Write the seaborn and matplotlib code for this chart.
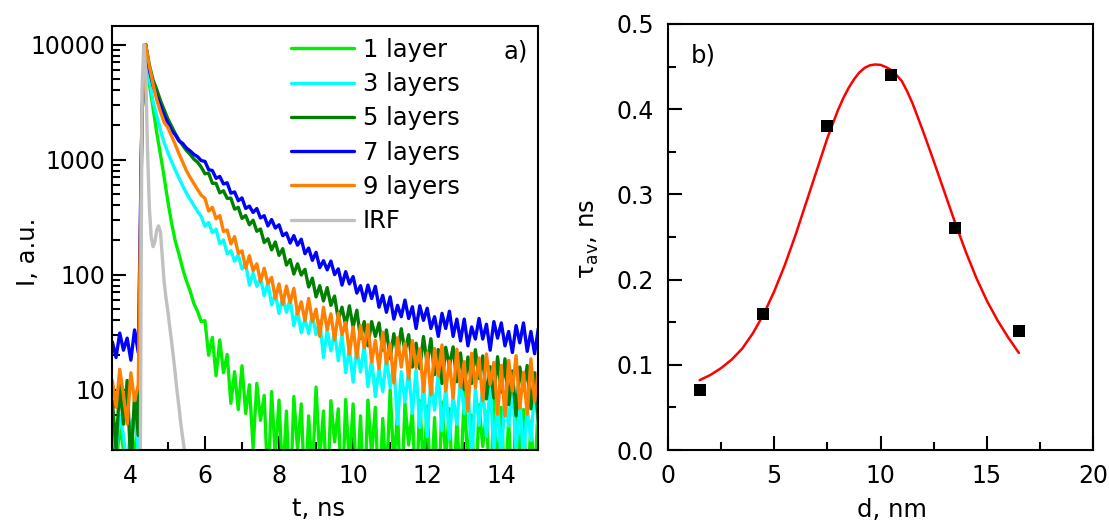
import matplotlib
matplotlib.use("Agg")
import matplotlib.pyplot as plt
import pandas as pd
import seaborn as sns
from matplotlib.ticker import (FixedLocator, MultipleLocator, LogLocator,
                               NullFormatter, FuncFormatter)

# ---------------- panel a) : PL decay curves ----------------
t_ns = [3.5, 3.6, 3.7, 3.8, 3.9, 4.0, 4.1, 4.2, 4.3, 4.4,
        4.5, 4.6, 4.7, 4.8, 4.9, 5.0, 5.1, 5.2, 5.3, 5.4,
        5.5, 5.6, 5.7, 5.8, 5.9, 6.0, 6.1, 6.2, 6.3, 6.4,
        6.5, 6.6, 6.7, 6.8, 6.9, 7.0, 7.1, 7.2, 7.3, 7.4,
        7.5, 7.6, 7.7, 7.8, 7.9, 8.0, 8.1, 8.2, 8.3, 8.4,
        8.5, 8.6, 8.7, 8.8, 8.9, 9.0, 9.1, 9.2, 9.3, 9.4,
        9.5, 9.6, 9.7, 9.8, 9.9, 10.0, 10.1, 10.2, 10.3, 10.4,
        10.5, 10.6, 10.7, 10.8, 10.9, 11.0, 11.1, 11.2, 11.3, 11.4,
        11.5, 11.6, 11.7, 11.8, 11.9, 12.0, 12.1, 12.2, 12.3, 12.4,
        12.5, 12.6, 12.7, 12.8, 12.9, 13.0, 13.1, 13.2, 13.3, 13.4,
        13.5, 13.6, 13.7, 13.8, 13.9, 14.0, 14.1, 14.2, 14.3, 14.4,
        14.5, 14.6, 14.7, 14.8, 14.9, 15.0]

I_1layer = [4, 2, 5, 3, 2, 4, 3, 5, 2500, 10000,
            4500, 2800, 1700, 1100, 700, 430, 280, 195, 150, 112,
            88, 72, 56, 48, 39,
            39.7, 19.9, 28.4, 13.2, 27, 14, 20.2, 7.6, 14.3, 6.7,
            16.1, 6.2, 11, 3.1, 11.3, 5.4, 8.9, 1.4, 9.6, 2.6,
            8.1, 1.6, 6.5, 1, 8.7, 3, 7.5, 1.1, 5.9, 1.8,
            10.5, 2.5, 6.5, 1, 8, 3.5, 6.8, 1, 8.2, 2.1,
            7.5, 1.3, 5.9, 1, 8.1, 2.7, 7, 1, 5.6, 1.6,
            10, 2.2, 6.2, 1, 7.6, 3.3, 6.6, 1, 8, 1.9,
            7.2, 1.2, 5.7, 1, 7.8, 2.5, 6.8, 1, 5.4, 1.5,
            9.5, 2.1, 6, 1, 7.4, 3.2, 6.4, 1, 7.9, 1.8,
            7, 1.2, 5.6, 1, 7.7, 2.4, 6.7, 1, 5.3, 1.5, 8]

I_3layers = [5, 3, 6, 4, 2, 5, 6, 3, 2500, 10000,
             5000, 3200, 2400, 1800, 1400, 1150, 960, 810, 690, 590,
             510, 450, 400, 355, 320,
             263, 284, 231, 248, 186, 200, 152, 161, 131, 149,
             112, 124, 81, 103, 79, 93, 65.6, 85, 54.5, 68.4,
             46, 63.8, 47, 61, 35.9, 48.6, 31.2, 41, 30.8, 45,
             30, 39.5, 19, 32.8, 21.7, 31.8, 17.8, 30, 14, 23,
             11.6, 23, 14.2, 24.1, 10.6, 18.3, 8.7, 15.3, 9.6, 18.8,
             10.4, 16.9, 5, 14.3, 7.8, 14.5, 6.2, 14.9, 4.7, 11.3,
             3.9, 12.3, 6.6, 13.8, 4.4, 10.5, 3.7, 8.9, 5, 12.4,
             6.2, 11.7, 2.3, 10.1, 4.9, 10.7, 3.9, 11.4, 2.8, 8.5,
             2.2, 9.5, 4.8, 11.1, 2.9, 8.5, 2.4, 6.9, 3.6, 10.2, 4.7]

I_5layers = [8, 3, 11, 5, 12, 2, 9, 4, 2500, 10000,
             6600, 4900, 4050, 3250, 2700, 2250, 1950, 1680, 1480, 1330,
             1200, 1110, 1010, 950, 860,
             753, 763, 623, 621, 514, 535, 460, 462, 371, 384,
             308, 326, 271, 297, 238, 249, 190, 205, 164, 192,
             147, 168, 121, 135, 101, 124, 99, 111, 78, 93,
             64, 80, 59, 77, 54, 65, 40.5, 52, 36, 53.5,
             35, 49, 28, 39, 24, 39, 29, 38, 22, 33,
             18.7, 30.6, 20.3, 33.8, 21.3, 30, 15.7, 25.3, 15.2, 28.9,
             16.6, 27.7, 13.5, 22.3, 11.3, 23.3, 16, 23.5, 11.7, 20.8,
             10, 19.2, 11.3, 22.2, 12.5, 19.6, 8.3, 15.8, 8.4, 19.3,
             9.5, 18.5, 7.4, 14.5, 5.9, 15.7, 9.9, 16.2, 6.8, 14, 5.3]

I_7layers = [26, 19, 31, 22, 28, 18, 33, 21, 2500, 10000,
             6000, 4400, 3550, 2950, 2420, 2080, 1790, 1640, 1450, 1380,
             1260, 1190, 1110, 1060, 980,
             964, 817, 803, 687, 713, 614, 628, 510, 523, 439,
             464, 376, 394, 347, 375, 311, 325, 265, 301, 254,
             271, 218, 230, 188, 218, 180, 203, 152, 170, 133,
             156, 115, 132, 110, 131, 100, 112, 81, 106, 83,
             96, 69, 80, 59, 81, 62, 79, 52, 66, 47,
             64, 41, 54, 43, 60, 41.5, 52.5, 34, 53.5, 40,
             51, 34, 43, 29, 46, 34, 48, 29, 41, 26.5,
             41, 24, 35, 27.5, 41.5, 27.5, 37, 22, 39, 28,
             38, 24, 32, 21, 36, 25.5, 38, 21.5, 32, 20.5, 34]

I_9layers = [12, 7, 15, 9, 5, 14, 8, 11, 2500, 10000,
             6500, 4500, 3300, 2600, 2100, 1900, 1600, 1350, 1120, 950,
             800, 700, 620, 550, 490,
             460, 357, 384, 306, 326, 237, 244, 185, 214, 153,
             161, 114, 146, 108, 124, 87, 113.5, 83.6, 94.4, 62,
             83, 55, 79.5, 57, 76, 45.5, 58, 39.7, 62, 39,
             50, 29, 52, 33, 45.6, 27, 46, 30, 38.4, 20.4,
             35, 18.8, 36, 23, 36.7, 17.4, 26.8, 15.2, 31.5, 16.7,
             25, 11.4, 28.2, 15.7, 25.4, 12.4, 26.7, 15.6, 22.6, 9.6,
             20.9, 9, 22.7, 13.2, 24.4, 9.7, 17.7, 8.5, 22.4, 10.4,
             17.5, 6.5, 20.7, 10.4, 18.8, 8, 20.4, 11.1, 17.2, 6.1,
             16.2, 5.9, 18, 9.7, 19.7, 6.9, 14.1, 6.1, 18.5, 7.9, 14.3]

t_irf = [4.20, 4.25, 4.30, 4.35, 4.40, 4.45, 4.50, 4.55, 4.60, 4.65,
         4.70, 4.75, 4.80, 4.85, 4.90, 4.95, 5.00, 5.05, 5.10, 5.15,
         5.20, 5.25, 5.30, 5.35, 5.40, 5.45, 5.50]
I_irf = [1, 1, 4000, 10000, 6000, 1200, 380, 210, 175, 195,
         245, 265, 235, 140, 85, 62, 48, 35, 26, 19,
         13.5, 9.5, 7, 5, 3.8, 2.9, 2]

series_names = ["1 layer", "3 layers", "5 layers", "7 layers", "9 layers", "IRF"]
series_colors = ["#00f000", "#00ffff", "#008000", "#0000ff", "#ff8000", "#c0c0c0"]

# ---------------- panel b) : average lifetime ----------------
d_nm = [1.5, 4.5, 7.5, 10.5, 13.5, 16.5]
tau_ns = [0.07, 0.16, 0.38, 0.44, 0.26, 0.14]

d_fit = [1.5, 2.0, 2.5, 3.0, 3.5, 4.0, 4.5, 5.0, 5.5, 6.0, 6.5,
         7.0, 7.5, 8.0, 8.25, 8.5, 8.75, 9.0, 9.25, 9.5, 9.75, 10.0,
         10.25, 10.5, 10.75, 11.0, 11.25, 11.5,
         12.0, 12.5, 13.0, 13.5, 14.0, 14.5, 15.0, 15.5, 16.0, 16.5]
tau_fit = [0.082, 0.088, 0.096, 0.106, 0.119, 0.137, 0.159, 0.186, 0.217, 0.252, 0.290,
           0.328, 0.366, 0.399, 0.413, 0.425, 0.435, 0.443, 0.4485, 0.4515, 0.4525, 0.452,
           0.4495, 0.446, 0.440, 0.433, 0.421, 0.407,
           0.374, 0.339, 0.303, 0.267, 0.233, 0.202, 0.175, 0.152, 0.132, 0.114]

# ---------------- style ----------------
sns.set_style("ticks")
plt.rcParams["font.family"] = ["DejaVu Sans"]
plt.rcParams["mathtext.fontset"] = "dejavusans"
plt.rcParams["axes.linewidth"] = 1.5
plt.rcParams["axes.edgecolor"] = "black"
plt.rcParams["axes.labelcolor"] = "black"
plt.rcParams["text.color"] = "black"
plt.rcParams["xtick.color"] = "black"
plt.rcParams["ytick.color"] = "black"
plt.rcParams["xtick.labelcolor"] = "black"
plt.rcParams["ytick.labelcolor"] = "black"

FS_TICK = 17
FS_TEXT = 17.5

fig = plt.figure(figsize=(11.09, 5.24), dpi=100)
axL = fig.add_axes([0.1013, 0.1418, 0.3841, 0.8092])
axR = fig.add_axes([0.6021, 0.1412, 0.3838, 0.8130])

# ---- left panel
rows = []
for name, vals in zip(series_names[:5], [I_1layer, I_3layers, I_5layers, I_7layers, I_9layers]):
    for t, v in zip(t_ns, vals):
        rows.append((name, t, v))
for t, v in zip(t_irf, I_irf):
    rows.append(("IRF", t, v))
df = pd.DataFrame(rows, columns=["sample", "t", "I"])

axL.set_yscale("log")
sns.lineplot(data=df, x="t", y="I", hue="sample", hue_order=series_names,
             palette=series_colors, estimator=None, sort=False, lw=2.4,
             ax=axL, legend=True)
axL.set_xlim(3.5, 15)
axL.set_ylim(3, 14600)

handles, labels = axL.get_legend_handles_labels()
axL.get_legend().remove()
leg = axL.legend(handles, labels, loc="upper left", bbox_to_anchor=(0.4195, 0.971),
                 frameon=False, borderpad=0, borderaxespad=0, handlelength=2.6,
                 handletextpad=0.35, labelspacing=0.42, fontsize=FS_TEXT)
for h in leg.get_lines():
    h.set_linewidth(2.4)

axL.xaxis.set_major_locator(FixedLocator([4, 6, 8, 10, 12, 14]))
axL.xaxis.set_minor_locator(MultipleLocator(1))
axL.yaxis.set_major_locator(FixedLocator([10, 100, 1000, 10000]))
axL.yaxis.set_minor_locator(LogLocator(base=10, subs=[2, 3, 4, 5, 6, 7, 8, 9]))
axL.yaxis.set_minor_formatter(NullFormatter())
axL.yaxis.set_major_formatter(FuncFormatter(lambda v, p: f"{v:.0f}"))
axL.xaxis.set_major_formatter(FuncFormatter(lambda v, p: f"{v:.0f}"))
axL.tick_params(axis="both", which="major", direction="in", length=10, width=1.5,
                labelsize=FS_TICK, top=False, right=False)
axL.tick_params(axis="both", which="minor", direction="in", length=5.5, width=1.5,
                top=False, right=False)
axL.tick_params(axis="x", which="major", pad=10)
axL.tick_params(axis="y", which="major", pad=5)
axL.set_xlabel("t, ns", fontsize=FS_TEXT)
axL.set_ylabel("I, a.u.", fontsize=FS_TEXT)
axL.xaxis.set_label_coords(0.483, -0.112)
axL.yaxis.set_label_coords(-0.170, 0.467)
axL.text(0.9186, 0.9387, "a)", transform=axL.transAxes, fontsize=FS_TEXT,
         ha="left", va="center")

# ---- right panel
sns.lineplot(x=d_fit, y=tau_fit, color="#ff0000", lw=1.8, sort=False,
             estimator=None, ax=axR)
sns.scatterplot(x=d_nm, y=tau_ns, marker="s", s=75, color="black",
                linewidth=0, ax=axR, zorder=3)
axR.set_xlim(0, 20)
axR.set_ylim(0, 0.5)
axR.xaxis.set_major_locator(MultipleLocator(5))
axR.xaxis.set_minor_locator(MultipleLocator(2.5))
axR.yaxis.set_major_locator(MultipleLocator(0.1))
axR.yaxis.set_minor_locator(MultipleLocator(0.05))
axR.xaxis.set_major_formatter(FuncFormatter(lambda v, p: f"{v:.0f}"))
axR.yaxis.set_major_formatter(FuncFormatter(lambda v, p: f"{v:.1f}"))
axR.tick_params(axis="both", which="major", direction="in", length=10, width=1.5,
                labelsize=FS_TICK, top=False, right=False)
axR.tick_params(axis="both", which="minor", direction="in", length=5.5, width=1.5,
                top=False, right=False)
axR.tick_params(axis="x", which="major", pad=10)
axR.tick_params(axis="y", which="major", pad=10)
axR.set_xlabel("d, nm", fontsize=FS_TEXT)
axR.set_ylabel(r"$\mathregular{\tau_{av}}$, ns", fontsize=FS_TEXT)
axR.xaxis.set_label_coords(0.526, -0.112)
axR.yaxis.set_label_coords(-0.157, 0.495)
axR.text(0.0547, 0.9268, "b)", transform=axR.transAxes, fontsize=FS_TEXT,
         ha="left", va="center")

for ax in (axL, axR):
    for s in ax.spines.values():
        s.set_visible(True)
        s.set_linewidth(1.5)
        s.set_color("black")

fig.savefig("out.png", dpi=100)
